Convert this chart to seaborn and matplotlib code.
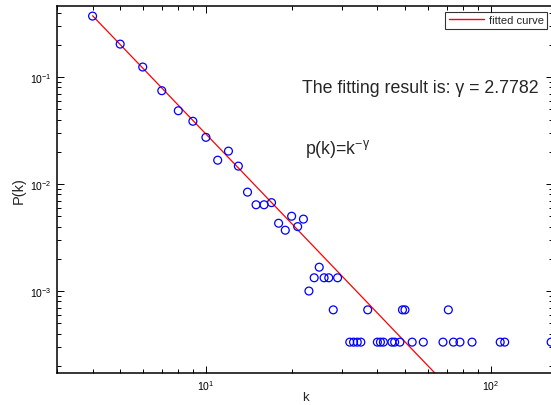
import numpy as np
import pandas as pd
import matplotlib
matplotlib.use("Agg")
import matplotlib.pyplot as plt
import seaborn as sns

# ---- data ----
k_values = [4, 5, 6, 7, 8, 9, 10, 11, 12, 13, 14, 15, 16, 17, 18, 19, 20, 21, 22,
            23, 24, 25, 26, 27, 28, 29, 32, 33, 34, 35, 37, 40, 41, 42, 45, 46, 48,
            49, 50, 53, 58, 68, 71, 74, 78, 86, 108, 112, 163]
p_values = [0.371, 0.203, 0.124, 0.0745, 0.0484, 0.0386, 0.0273, 0.0167, 0.0203,
            0.0147, 0.0084, 0.0064, 0.0064, 0.0067, 0.0043, 0.0037, 0.0050, 0.0040,
            0.0047, 0.00100, 0.00133, 0.00167, 0.00133, 0.00133, 0.000667, 0.00133,
            0.000333, 0.000333, 0.000333, 0.000333, 0.000667, 0.000333, 0.000333,
            0.000333, 0.000333, 0.000333, 0.000333, 0.000667, 0.000667, 0.000333,
            0.000333, 0.000333, 0.000667, 0.000333, 0.000333, 0.000333, 0.000333,
            0.000333, 0.000333]
gamma = 2.7782
fit_const = 17.6
fit_k_range = [4, 163]

legend_label = "fitted curve"
result_text = "The fitting result is: \u03b3 = 2.7782"
x_label = "k"
y_label = "P(k)"

# ---- style ----
sns.set_style("ticks")
plt.rcParams["font.family"] = ["Liberation Sans", "DejaVu Sans"]
plt.rcParams["mathtext.fontset"] = "custom"
plt.rcParams["mathtext.rm"] = "Liberation Sans"
plt.rcParams["mathtext.it"] = "Liberation Sans:italic"
plt.rcParams["mathtext.bf"] = "Liberation Sans:bold"

W, H = 551, 406
fig = plt.figure(figsize=(W / 100, H / 100), dpi=100)
left, right, top, bottom = 57, 553, 7, 374
ax = fig.add_axes([left / W, 1 - bottom / H, (right - left) / W, (bottom - top) / H])

scatter_df = pd.DataFrame({"k": k_values, "P": p_values})
fit_k = np.array(fit_k_range, dtype=float)
fit_df = pd.DataFrame({"k": fit_k, "P": fit_const * fit_k ** (-gamma)})

sns.lineplot(data=fit_df, x="k", y="P", ax=ax, color="red", linewidth=0.9,
             label=legend_label, zorder=2)
sns.scatterplot(data=scatter_df, x="k", y="P", ax=ax, marker="o", s=32,
                facecolor="none", edgecolor="blue", linewidth=0.9, zorder=3,
                legend=False, clip_on=True)

ax.set_xscale("log")
ax.set_yscale("log")
ax.set_xlim(3, 165.5)
ax.set_ylim(1.714e-4, 0.461)

ax.set_xlabel(x_label, fontsize=9.5, labelpad=-1)
ax.set_ylabel(y_label, fontsize=10.5, labelpad=3)

for s in ax.spines.values():
    s.set_linewidth(1.1)
    s.set_color("black")
ax.tick_params(which="both", direction="in", top=True, right=True, colors="black",
               labelsize=7.5, width=0.7)
ax.tick_params(which="major", length=5, pad=4)
ax.tick_params(which="minor", length=3)
ax.set_facecolor("white")

leg = ax.legend(loc="upper right", bbox_to_anchor=(547 / W, 1 - 13 / H),
                bbox_transform=fig.transFigure, fontsize=8, frameon=True,
                fancybox=False, borderpad=0.3, handlelength=3.2, handletextpad=0.4,
                borderaxespad=0)
leg.get_frame().set_edgecolor("black")
leg.get_frame().set_linewidth(0.8)
for line in leg.get_lines():
    line.set_color("red")
    line.set_linewidth(1.0)

fig.text(302 / W, 1 - 93 / H, result_text, fontsize=12.8, va="baseline", ha="left")
fig.text(305 / W, 1 - 154 / H, "p(k)=k$\\mathregular{^{\u2212\u03b3}}$", fontsize=12.8,
         va="baseline", ha="left")

fig.savefig("out.png", dpi=100)
